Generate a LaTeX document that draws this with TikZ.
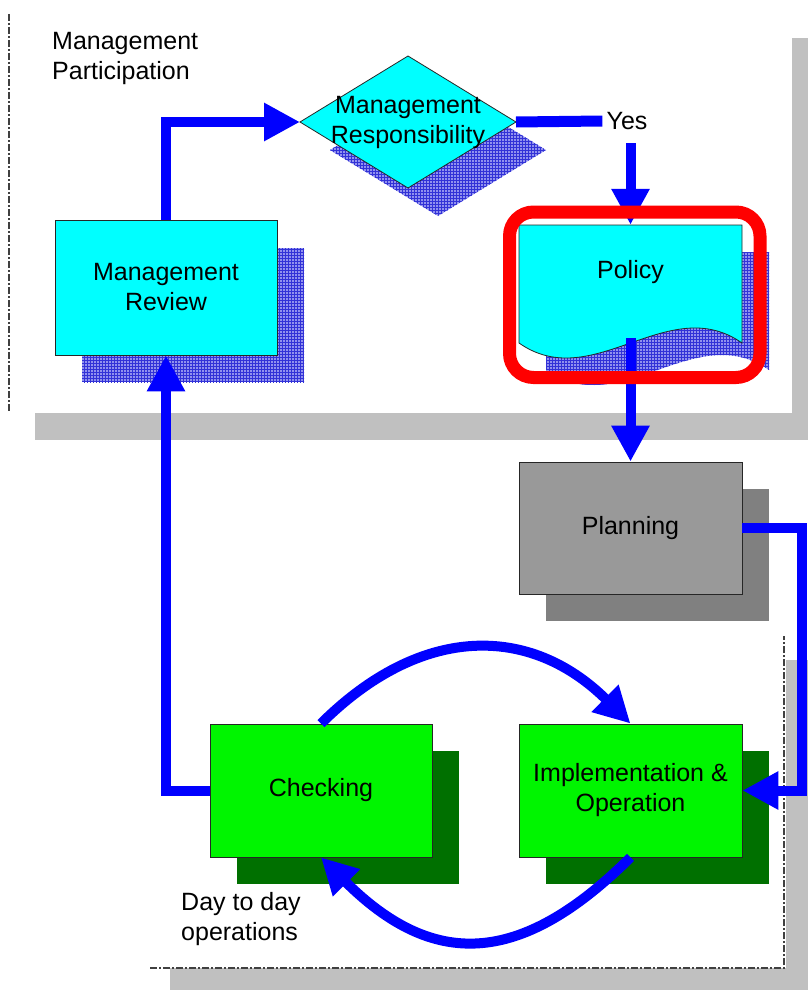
\documentclass[tikz,border=0pt]{standalone}
\usepackage{fontspec}
\setmainfont{Liberation Sans}
\usetikzlibrary{arrows.meta,patterns}
\definecolor{cyanbox}{RGB}{0,255,255}
\definecolor{greenbox}{RGB}{0,245,0}
\definecolor{greenshadow}{RGB}{0,112,0}
\definecolor{planfill}{RGB}{153,153,153}
\definecolor{planshadow}{RGB}{128,128,128}
\definecolor{panelgray}{RGB}{192,192,192}
\definecolor{flowblue}{RGB}{0,0,255}
\definecolor{lav}{RGB}{145,145,238}
\definecolor{lavline}{RGB}{50,50,215}
\definecolor{frame}{RGB}{255,0,0}
\begin{document}
\begin{tikzpicture}[x=1pt,y=-1pt,
  txt/.style={font=\fontsize{25}{30}\selectfont, text=black, align=center, inner sep=0pt},
  box/.style={txt, draw=black!85, line width=0.8pt},
  flow/.style={draw=flowblue, line width=10pt, -{Triangle[length=36pt,width=36pt]}},
  flowline/.style={draw=flowblue, line width=11pt},
  lavshadow/.style={fill=lav, postaction={pattern=grid, pattern color=lavline}},
  dashline/.style={draw=black!75, line width=1.3pt, dash pattern=on 7pt off 2pt on 2pt off 2pt},
  hilite/.style={draw=frame, line width=13pt, rounded corners=24pt}]
\useasboundingbox (0,0) rectangle (808,990);
\fill[white] (0,0) rectangle (808,990);
% bottom panel
\fill[panelgray] (170,660) rectangle (808,990);
\fill[white] (0,0) rectangle (786,968);
\draw[dashline] (150,968) -- (784,968) -- (784,636);
% top panel
\fill[panelgray] (35,38) rectangle (808,440);
\fill[white] (0,0) rectangle (792,413);
\draw[dashline] (9,14) -- (9,412);
\node[txt, anchor=west, align=left] (mp) at (52,58) {Management\\Participation};
% management review
\fill[lavshadow] (82,248) rectangle (304,382);
\node[box, fill=cyanbox, minimum width=222pt, minimum height=135pt] (rev) at (166,287.5) {Management\\Review};
% diamond
\fill[lavshadow] (330,150) -- (438,84) -- (546,150) -- (438,216) -- cycle;
\draw[fill=cyanbox, draw=black!85, line width=0.8pt] (300,122) -- (408,56) -- (516,122) -- (408,188) -- cycle;
\coordinate (mrW) at (300,122);
\coordinate (mrE) at (516,122);
\node[txt] (mr) at (408,122) {Management\\Responsibility};
\node[txt] (yes) at (627,121) {Yes};
% policy
\fill[lavshadow] (546,252) -- (769,252) -- (769,370) .. controls (695,318) and (620,422) .. (546,370) -- cycle;
\draw[fill=cyanbox, draw=black!85, line width=0.8pt] (519,225) -- (742,225) -- (742,343) .. controls (668,291) and (593,395) .. (519,343) -- cycle;
\node[txt, minimum width=223pt, minimum height=94pt] (policy) at (630.5,272) {Policy};
% planning
\fill[planshadow] (546,489) rectangle (769,621);
\node[box, fill=planfill, minimum width=223pt, minimum height=132pt] (plan) at (630.5,528) {Planning};
% checking
\fill[greenshadow] (237,751) rectangle (459,884);
\node[box, fill=greenbox, minimum width=222pt, minimum height=133pt] (check) at (321,790.5) {Checking};
% implementation
\fill[greenshadow] (546,751) rectangle (769,884);
\node[box, fill=greenbox, minimum width=223pt, minimum height=133pt] (impl) at (630.5,790.5) {Implementation \&\\Operation};
\node[txt, anchor=west, align=left] (day) at (181,919) {Day to day\\operations};
% connectors
\coordinate (yesdn) at (630.5,143);
\coordinate (polout) at (630.5,338);
\coordinate (rt) at (802,528);
\draw[flow] (rev.north) |- (mrW);
\draw[flowline] (mrE) -- ([xshift=-4pt]yes.west);
\draw[flow] (yesdn) -- (policy.north);
\draw[flow] (polout) -- (plan.north);
\draw[flow] (plan.east) -- (rt) |- (impl.east);
\draw[flow] (check.west) -| (rev.south);
\draw[flow] (check.north) .. controls (421,624) and (530,624) .. (impl.north);
\draw[flow] (impl.south) .. controls (519,968) and (432,968) .. (check.south);
% highlight frame
\draw[hilite] (509.5,212) rectangle (760,377.5);
\end{tikzpicture}
\end{document}
